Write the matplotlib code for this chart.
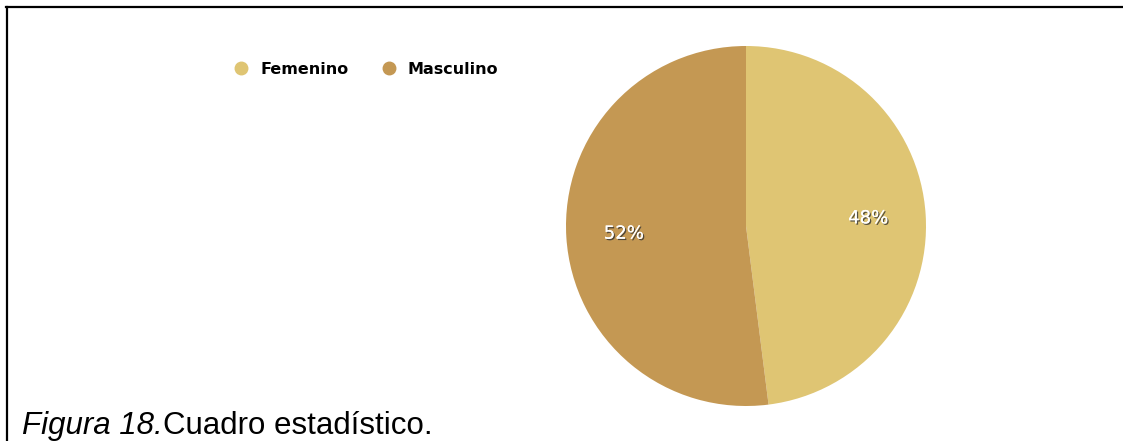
import matplotlib
matplotlib.use("Agg")
import matplotlib.pyplot as plt
from matplotlib.lines import Line2D
import matplotlib.patheffects as pe

# Distribution by sex
categories = ["Femenino", "Masculino"]
shares = [48, 52]
colors = ["#DFC573", "#C49853"]

W, H = 1123, 441
fig = plt.figure(figsize=(W / 100, H / 100), dpi=100)
fig.patch.set_facecolor("white")

# Pie axes: centre (746, 226), radius 180 px
cx, cy, r = 746, 226, 180
ax = fig.add_axes([(cx - r) / W, (H - cy - r) / H, 2 * r / W, 2 * r / H])
wedges, texts, autotexts = ax.pie(
    shares, colors=colors, startangle=90, counterclock=False,
    autopct="%d%%", pctdistance=0.68, radius=1.0,
    wedgeprops=dict(linewidth=0),
    textprops=dict(color="white", fontsize=13, family="DejaVu Sans"),
)
for t in autotexts:
    t.set_path_effects([pe.withSimplePatchShadow(offset=(1, -1), shadow_rgbFace="#333333", alpha=0.8),
                        pe.Normal()])
ax.set_xlim(-1, 1)
ax.set_ylim(-1, 1)
ax.set_aspect("equal")
ax.axis("off")

# Legend across the top-left
handles = [Line2D([0], [0], marker="o", linestyle="none", markersize=9,
                  markerfacecolor=c, markeredgecolor=c) for c in colors]
fig.legend(handles, categories, loc="center left",
           bbox_to_anchor=(219 / W, 1 - 69 / H), ncol=2, frameon=False,
           handletextpad=0.7, columnspacing=2.0, handlelength=1.0,
           prop=dict(size=11.5, weight="bold", family="DejaVu Sans"))

# Frame lines (top and left)
fig.add_artist(Line2D([6 / W, 1.0], [1 - 7 / H, 1 - 7 / H], color="black",
                      linewidth=1.6, transform=fig.transFigure))
fig.add_artist(Line2D([7 / W, 7 / W], [0.0, 1 - 7 / H], color="black",
                      linewidth=1.6, transform=fig.transFigure))

# Caption: italic figure number followed by regular description
renderer = fig.canvas.get_renderer()
t1 = fig.text(22 / W, 7 / H, "Figura 18.", fontsize=22.5, style="italic",
              family="Liberation Sans", va="baseline", ha="left")
bb = t1.get_window_extent(renderer=renderer)
fig.text(bb.x1 / W, 7 / H, "Cuadro estadístico.", fontsize=22.5,
         family="Liberation Sans", va="baseline", ha="left")

fig.savefig("out.png", dpi=100)
